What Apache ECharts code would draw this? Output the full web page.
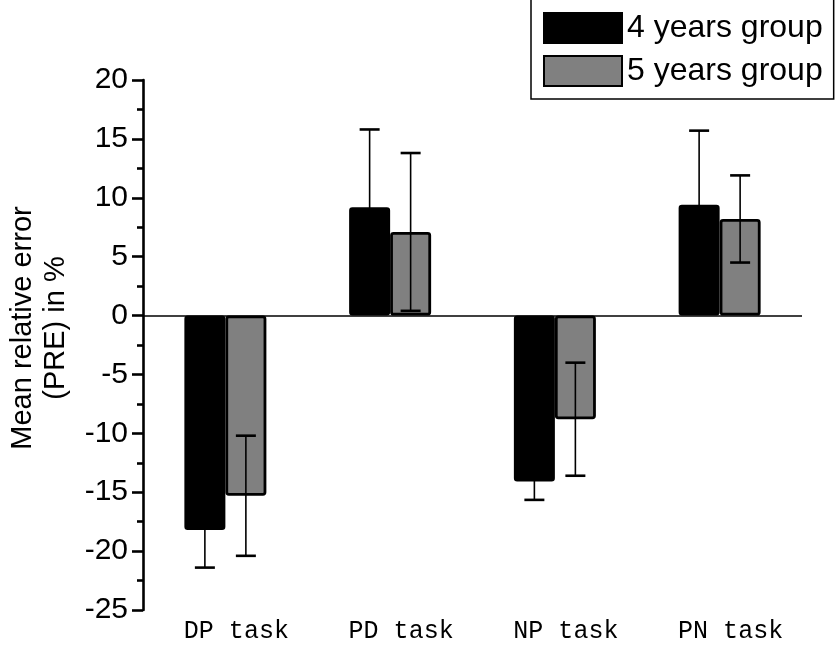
<!DOCTYPE html>
<html>
<head>
<meta charset="utf-8">
<script src="https://cdn.jsdelivr.net/npm/echarts@6/dist/echarts.min.js"></script>
<style>
html,body{margin:0;padding:0;background:#fff;}
#chart{width:839px;height:649px;}
</style>
</head>
<body>
<div id="chart"></div>
<script>
const categories = ['DP task', 'PD task', 'NP task', 'PN task'];
const group4 = [-18.2, 9.2, -14.1, 9.4];
const group5 = [-15.3, 7.1, -8.8, 8.2];
const sd4 = [3.2, 6.6, 1.55, 6.3];
const sd5 = [5.1, 6.7, 4.8, 3.7];
const seriesNames = ['4 years group', '5 years group'];
const yTicks = { min: -25, max: 20, interval: 5 };

const BAR_W = 41;

function errRenderer(offset) {
  return function (params, api) {
    const x = api.value(0), m = api.value(1), s = api.value(2);
    const top = api.coord([x, m + s]);
    const bot = api.coord([x, m - s]);
    const cx = top[0] + offset;
    const capHalf = 10;
    return {
      type: 'group',
      children: [
        { type: 'line', shape: { x1: cx, y1: top[1], x2: cx, y2: bot[1] }, style: { stroke: '#000', lineWidth: 1.6 } },
        { type: 'line', shape: { x1: cx - capHalf, y1: top[1], x2: cx + capHalf, y2: top[1] }, style: { stroke: '#000', lineWidth: 2.6 } },
        { type: 'line', shape: { x1: cx - capHalf, y1: bot[1], x2: cx + capHalf, y2: bot[1] }, style: { stroke: '#000', lineWidth: 2.6 } }
      ]
    };
  };
}

const chart = echarts.init(document.getElementById('chart'), null, { renderer: 'canvas' });
chart.setOption({
  animation: false,
  backgroundColor: '#fff',
  grid: { left: 143, right: 37, top: 80, bottom: 39, containLabel: false },
  legend: {
    data: seriesNames,
    orient: 'vertical',
    left: 531,
    top: -1,
    padding: [13, 11, 12, 12],
    itemWidth: 78,
    itemHeight: 30,
    itemGap: 11,
    borderColor: '#000',
    borderWidth: 1.5,
    backgroundColor: '#fff',
    textStyle: { fontFamily: 'Liberation Sans, Arial, sans-serif', fontSize: 32, color: '#000' },
    icon: 'rect'
  },
  xAxis: {
    type: 'category',
    data: categories,
    position: 'bottom',
    axisLine: { show: false, onZero: false },
    axisTick: { show: false },
    axisLabel: {
      margin: 9,
      fontFamily: 'Liberation Mono, Courier New, monospace',
      fontSize: 25,
      color: '#000',
      padding: [0, 0, 0, 22]
    },
    splitLine: { show: false }
  },
  yAxis: {
    type: 'value',
    min: yTicks.min,
    max: yTicks.max,
    interval: yTicks.interval,
    axisLine: { show: true, lineStyle: { color: '#000', width: 2.6 } },
    axisTick: { show: true, length: 11, lineStyle: { color: '#000', width: 2.6 } },
    minorTick: { show: true, splitNumber: 2, length: 6, lineStyle: { color: '#000', width: 2.6 } },
    axisLabel: {
      margin: 15,
      fontFamily: 'Liberation Sans, Arial, sans-serif',
      fontSize: 30,
      color: '#000'
    },
    splitLine: { show: false }
  },
  graphic: [{
    type: 'text',
    x: 39,
    y: 328,
    rotation: Math.PI / 2,
    style: {
      text: 'Mean relative error\n(PRE) in %',
      fontFamily: 'Liberation Sans, Arial, sans-serif',
      fontSize: 29,
      lineHeight: 33,
      fill: '#000',
      align: 'center',
      verticalAlign: 'middle'
    }
  }],
  series: [
    {
      name: seriesNames[0],
      type: 'bar',
      data: group4,
      barWidth: BAR_W,
      barGap: '0%',
      itemStyle: { color: '#000', borderColor: '#000', borderWidth: 2.5, borderRadius: 2 },
      markLine: {
        silent: true,
        symbol: 'none',
        label: { show: false },
        lineStyle: { color: '#000', width: 1.6, type: 'solid' },
        data: [{ yAxis: 0 }]
      }
    },
    {
      name: seriesNames[1],
      type: 'bar',
      data: group5,
      barWidth: BAR_W,
      barGap: '0%',
      itemStyle: { color: '#808080', borderColor: '#000', borderWidth: 2.8, borderRadius: 2 }
    },
    {
      type: 'custom',
      name: 'err4',
      renderItem: errRenderer(-BAR_W / 2),
      data: categories.map((c, i) => [i, group4[i], sd4[i]]),
      encode: { x: 0, y: 1 },
      z: 10
    },
    {
      type: 'custom',
      name: 'err5',
      renderItem: errRenderer(BAR_W / 2),
      data: categories.map((c, i) => [i, group5[i], sd5[i]]),
      encode: { x: 0, y: 1 },
      z: 10
    }
  ]
});
</script>
</body>
</html>
